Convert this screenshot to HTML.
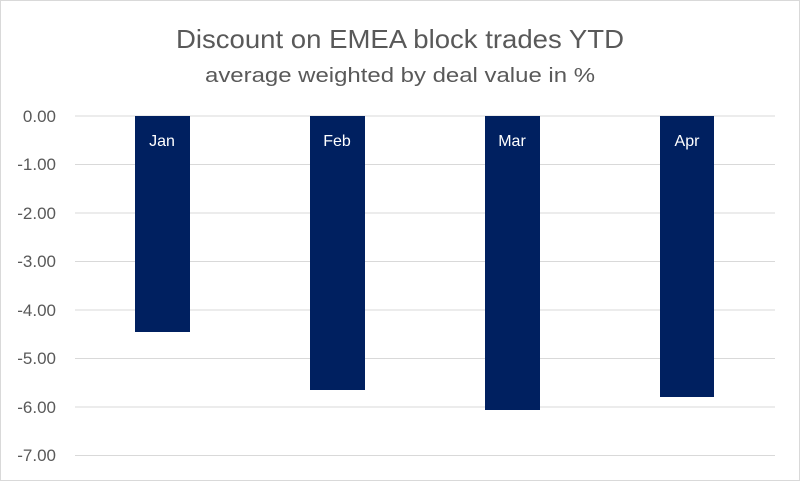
<!DOCTYPE html>
<html><head><meta charset="utf-8"><style>body{margin:0;background:#fff}</style></head><body>
<svg width="800" height="481" xmlns="http://www.w3.org/2000/svg" font-family="Liberation Sans, sans-serif">
<rect x="0.5" y="0.5" width="799" height="480" fill="#fff" stroke="#d9d9d9"/>
<text x="400" y="48" text-anchor="middle" font-size="26" fill="#595959" textLength="448" lengthAdjust="spacingAndGlyphs">Discount on EMEA block trades YTD</text>
<text x="400" y="82" text-anchor="middle" font-size="20" fill="#595959" textLength="390" lengthAdjust="spacingAndGlyphs">average weighted by deal value in %</text>
<g stroke="#d9d9d9" stroke-width="1">
<line x1="75" x2="775" y1="116" y2="116"/><line x1="75" x2="775" y1="164.5" y2="164.5"/>
<line x1="75" x2="775" y1="213" y2="213"/><line x1="75" x2="775" y1="261.5" y2="261.5"/>
<line x1="75" x2="775" y1="310" y2="310"/><line x1="75" x2="775" y1="358.5" y2="358.5"/>
<line x1="75" x2="775" y1="407" y2="407"/><line x1="75" x2="775" y1="455.5" y2="455.5"/>
</g>
<g font-size="17" fill="#595959" text-anchor="end">
<text x="56" y="122">0.00</text><text x="56" y="170">-1.00</text><text x="56" y="219">-2.00</text>
<text x="56" y="267">-3.00</text><text x="56" y="316">-4.00</text><text x="56" y="364">-5.00</text>
<text x="56" y="413">-6.00</text><text x="56" y="461">-7.00</text>
</g>
<g fill="#002060">
<rect x="135" y="116" width="55" height="216"/>
<rect x="310" y="116" width="55" height="274"/>
<rect x="485" y="116" width="55" height="294"/>
<rect x="660" y="116" width="54" height="281"/>
</g>
<g font-size="16" fill="#fff" text-anchor="middle">
<text x="162" y="146">Jan</text><text x="337" y="146">Feb</text>
<text x="512" y="146">Mar</text><text x="687" y="146">Apr</text>
</g>
</svg>
</body></html>
